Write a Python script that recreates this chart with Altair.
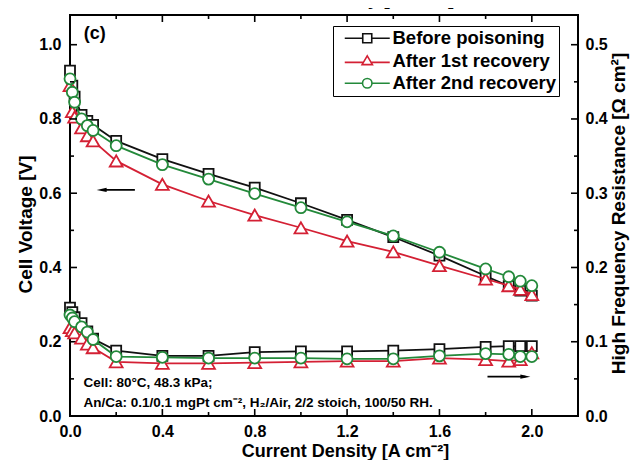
import altair as alt
import pandas as pd

# ---------------- data ----------------
current = [0.0, 0.01, 0.02, 0.05, 0.075, 0.1, 0.2, 0.4, 0.6, 0.8, 1.0, 1.2, 1.4, 1.6, 1.8, 1.9, 1.95, 2.0]

v_before = [0.930, 0.890, 0.860, 0.811, 0.795, 0.784, 0.741, 0.692, 0.652, 0.615, 0.573, 0.528, 0.482, 0.432, 0.377, 0.350, 0.338, 0.324]
v_after1 = [0.890, 0.820, 0.805, 0.776, 0.755, 0.741, 0.687, 0.624, 0.579, 0.541, 0.507, 0.471, 0.442, 0.405, 0.369, 0.351, 0.341, 0.327]
v_after2 = [0.908, 0.872, 0.845, 0.800, 0.782, 0.769, 0.728, 0.677, 0.638, 0.599, 0.561, 0.523, 0.485, 0.441, 0.396, 0.375, 0.363, 0.351]

hfr_before = [0.146, 0.140, 0.133, 0.125, 0.114, 0.104, 0.088, 0.081, 0.081, 0.086, 0.087, 0.087, 0.088, 0.090, 0.093, 0.094, 0.094, 0.094]
hfr_after1 = [0.119, 0.115, 0.112, 0.105, 0.097, 0.092, 0.073, 0.071, 0.071, 0.072, 0.073, 0.074, 0.074, 0.078, 0.076, 0.074, 0.076, 0.085]
hfr_after2 = [0.136, 0.132, 0.127, 0.120, 0.113, 0.103, 0.080, 0.079, 0.078, 0.078, 0.078, 0.077, 0.077, 0.081, 0.084, 0.083, 0.080, 0.080]

series_names = ["Before poisoning", "After 1st recovery", "After 2nd recovery"]
series_colors = ["#111111", "#d42034", "#23893a"]
series_shapes = ["square", "triangle-up", "circle"]
series_sizes = [100, 165, 121]

x_major = [0.0, 0.4, 0.8, 1.2, 1.6, 2.0]
x_minor = [0.2, 0.6, 1.0, 1.4, 1.8]
yl_major = [0.0, 0.2, 0.4, 0.6, 0.8, 1.0]
yl_minor = [0.1, 0.3, 0.5, 0.7, 0.9]
yr_major = [0.0, 0.1, 0.2, 0.3, 0.4, 0.5]
yr_minor = [0.05, 0.15, 0.25, 0.35, 0.45]

note_lines = ["Cell: 80°C, 48.3 kPa;",
              "An/Ca: 0.1/0.1 mgPt cm⁻², H₂/Air, 2/2 stoich, 100/50 RH."]

# ---------------- layout constants ----------------
W, H = 508, 401
FONT = "Liberation Sans"
xs = alt.Scale(domain=[0, 2.2], nice=False, zero=False)
yls = alt.Scale(domain=[0, 1.08], nice=False, zero=False)
yrs = alt.Scale(domain=[0, 0.54], nice=False, zero=False)

v_df = pd.DataFrame({
    "current": current * 3,
    "value": v_before + v_after1 + v_after2,
    "series": sum([[n] * len(current) for n in series_names], []),
})
h_df = pd.DataFrame({
    "current": current * 3,
    "value": hfr_before + hfr_after1 + hfr_after2,
    "series": sum([[n] * len(current) for n in series_names], []),
})

common = dict(domain=False, ticks=False, grid=False, labelFlush=False,
              labelFont=FONT, labelFontSize=16, labelFontWeight="bold", labelColor="black",
              titleFont=FONT, titleFontWeight="bold", titleColor="black")
x_axis = alt.Axis(values=x_major, format=".1f", title="Current Density [A cm⁻²]",
                  orient="bottom", labelPadding=7, titlePadding=3, titleFontSize=18,
                  titleX=275, **common)
yl_axis = alt.Axis(values=yl_major, format=".1f", title="Cell Voltage [V]", orient="left",
                   labelPadding=9, titlePadding=3, titleFontSize=19, titleY=209, **common)
yr_axis = alt.Axis(values=yr_major, format=".1f", title="High Frequency Resistance [Ω cm²]",
                   orient="right", labelPadding=7, titlePadding=21, titleAngle=270,
                   titleFontSize=19, titleY=198, **common)


def series_layers(df, yscale, yaxis):
    out = []
    for name, col, shp, sz in zip(series_names, series_colors, series_shapes, series_sizes):
        sub = df[df["series"] == name]
        enc = dict(x=alt.X("current:Q", scale=xs, axis=x_axis),
                   y=alt.Y("value:Q", scale=yscale, axis=yaxis))
        line = alt.Chart(sub).mark_line(color=col, strokeWidth=1.8).encode(**enc)
        pts = alt.Chart(sub).mark_point(shape=shp, size=sz, fill="white", stroke=col,
                                        strokeWidth=1.8, opacity=1, filled=False).encode(**enc)
        out += [line, pts]
    return out


def xticks(vals, length, top):
    y0, y1 = (0, length) if top else (H, H - length)
    return alt.Chart(pd.DataFrame({"v": vals})).mark_rule(color="black", strokeWidth=1.6).encode(
        x=alt.X("v:Q", scale=xs, axis=x_axis), y=alt.value(y0), y2=alt.value(y1))


def yticks(vals, length, yscale, yaxis, right):
    x0, x1 = (W, W - length) if right else (0, length)
    return alt.Chart(pd.DataFrame({"v": vals})).mark_rule(color="black", strokeWidth=1.6).encode(
        y=alt.Y("v:Q", scale=yscale, axis=yaxis), x=alt.value(x0), x2=alt.value(x1))


# legend (line - marker - line symbols)
legend_paths = [
    "M-5,0H-1M1,0H5M-1,-1H1V1H-1Z",
    "M-5,0.35H-0.78M0.78,0.35H5M0,-1.1L1.15,0.85H-1.15Z",
    "M-5,0H-1.05M1.05,0H5M-1.05,0A1.05,1.05,0,1,0,1.05,0A1.05,1.05,0,1,0,-1.05,0Z",
]
leg = alt.Legend(title=None, orient="none", legendX=263, legendY=11, padding=3,
                 strokeColor="black", fillColor="white", symbolSize=81,
                 symbolStrokeWidth=1.6, symbolOpacity=1,
                 symbolOffset=22, labelOffset=16, rowPadding=3.5, labelLimit=400,
                 labelFont=FONT, labelFontSize=18.5, labelFontWeight="bold", labelColor="black")
legend_layer = alt.Chart(v_df).mark_point(opacity=0).encode(
    x=alt.X("current:Q", scale=xs, axis=x_axis),
    y=alt.Y("value:Q", scale=yls, axis=yl_axis),
    stroke=alt.Stroke("series:N", scale=alt.Scale(domain=series_names, range=series_colors), legend=leg),
    shape=alt.Shape("series:N", scale=alt.Scale(domain=series_names, range=legend_paths), legend=leg),
)

# arrows (in data coordinates)
arrows = pd.DataFrame({"x1": [0.137, 1.808], "x2": [0.281, 1.972], "y": [0.609, 0.106]})
arrow_lines = alt.Chart(arrows).mark_rule(color="black", strokeWidth=1.6).encode(
    x=alt.X("x1:Q", scale=xs, axis=x_axis), x2="x2:Q", y=alt.Y("y:Q", scale=yls, axis=yl_axis))
head_l = alt.Chart(pd.DataFrame({"x": [0.137], "y": [0.609]})).mark_point(
    filled=True, color="black", opacity=1, size=100, shape="M-1,0L1,-0.42L1,0.42Z").encode(
    x=alt.X("x:Q", scale=xs, axis=x_axis), y=alt.Y("y:Q", scale=yls, axis=yl_axis))
head_r = alt.Chart(pd.DataFrame({"x": [1.972], "y": [0.106]})).mark_point(
    filled=True, color="black", opacity=1, size=100, shape="M1,0L-1,-0.42L-1,0.42Z").encode(
    x=alt.X("x:Q", scale=xs, axis=x_axis), y=alt.Y("y:Q", scale=yls, axis=yl_axis))

notes = pd.DataFrame({"x": [0.058, 0.058], "y": [0.089, 0.034], "t": note_lines})
note_layer = alt.Chart(notes).mark_text(align="left", baseline="middle", font=FONT, fontSize=13.5,
                                        fontWeight="bold", color="black").encode(
    x=alt.X("x:Q", scale=xs, axis=x_axis), y=alt.Y("y:Q", scale=yls, axis=yl_axis), text="t:N")

panel = pd.DataFrame({"x": [0.06], "y": [1.03], "t": ["(c)"]})
panel_layer = alt.Chart(panel).mark_text(align="left", baseline="middle", font=FONT, fontSize=18,
                                         fontWeight="bold", color="black").encode(
    x=alt.X("x:Q", scale=xs, axis=x_axis), y=alt.Y("y:Q", scale=yls, axis=yl_axis), text="t:N")

left = alt.layer(
    *series_layers(v_df, yls, yl_axis),
    legend_layer,
    xticks(x_major, 7, False), xticks(x_minor, 4, False),
    xticks(x_major, 7, True), xticks(x_minor, 4, True),
    yticks(yl_major, 7, yls, yl_axis, False), yticks(yl_minor, 4, yls, yl_axis, False),
    arrow_lines, head_l, head_r, note_layer, panel_layer,
)
right = alt.layer(
    *series_layers(h_df, yrs, yr_axis),
    yticks(yr_major, 7, yrs, yr_axis, True), yticks(yr_minor, 4, yrs, yr_axis, True),
)

chart = alt.layer(left, right).resolve_scale(y="independent").properties(
    width=W, height=H,
    background="white",
    title=alt.TitleParams("Current Density [A cm⁻²]", font=FONT, fontSize=19, fontWeight="bold",
                          color="black", anchor="middle", dx=21, offset=5, frame="group"),
    autosize=alt.AutoSizeParams(type="none"),
    padding={"left": 62, "top": 7, "right": 58, "bottom": 44},
).configure_view(stroke="black", strokeWidth=2)

chart.save("out.html", embed_options={"renderer": "svg", "actions": False})
